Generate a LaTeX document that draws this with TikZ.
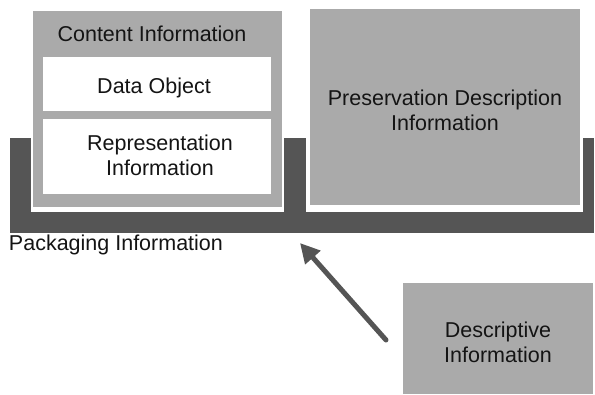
\documentclass[tikz,border=0pt]{standalone}
\usepackage{fontspec}
\setmainfont{Liberation Sans}
\usetikzlibrary{arrows.meta}
\definecolor{boxgray}{RGB}{170,170,170}
\definecolor{darkband}{RGB}{85,85,85}
\definecolor{inktext}{RGB}{20,20,20}
\begin{document}
\begin{tikzpicture}[x=1pt,y=-1pt,
  every node/.style={font=\fontsize{21.5}{25}\selectfont, text=inktext, inner sep=0pt, outer sep=0pt},
  band/.style={fill=darkband, draw=none, anchor=north west},
  mat/.style={fill=white, draw=none, anchor=north west},
  graybox/.style={fill=boxgray, draw=none, anchor=north west},
  whitebox/.style={fill=white, draw=none, anchor=north west},
  caption/.style={align=center},
  pointer/.style={draw=darkband, line width=5pt, line cap=round, -{Triangle[length=19.5pt,width=19.5pt]}}
]
\useasboundingbox (0,0) rectangle (595,394);
\fill[white] (0,0) rectangle (595,394);
% packaging band
\node[band, minimum width=584pt, minimum height=95pt] (pkg) at (10,138) {};
% content information
\node[mat, minimum width=253pt, minimum height=203pt] (cmat) at (31,9) {};
\node[graybox, minimum width=249pt, minimum height=196pt] (content) at (33,11) {};
\node[caption] (ctitle) at (152,34) {Content Information};
\node[whitebox, minimum width=228pt, minimum height=54pt] (dobox) at (43,57) {};
\node[caption] (dotext) at (154,88) {Data Object};
\node[whitebox, minimum width=228pt, minimum height=75pt] (ribox) at (43,119) {};
\node[caption] (ritext) at (160,155) {Representation\\Information};
% preservation description information
\node[mat, minimum width=277pt, minimum height=205pt] (pmat) at (306,7) {};
\node[graybox, minimum width=270pt, minimum height=196pt] (pdi) at (310,9) {};
\node[caption] (pditext) at (445,110) {Preservation Description\\Information};
% packaging label
\node[anchor=west] (pkgtext) at (9,245) {Packaging Information};
% descriptive information
\node[graybox, minimum width=190pt, minimum height=111pt] (desc) at (403,283) {};
\node[caption] (desctext) at (498,342) {Descriptive\\Information};
% arrow
\coordinate (tail) at (386,340);
\coordinate (tip) at (300,243);
\draw[pointer] (tail) -- (tip);
\end{tikzpicture}
\end{document}
